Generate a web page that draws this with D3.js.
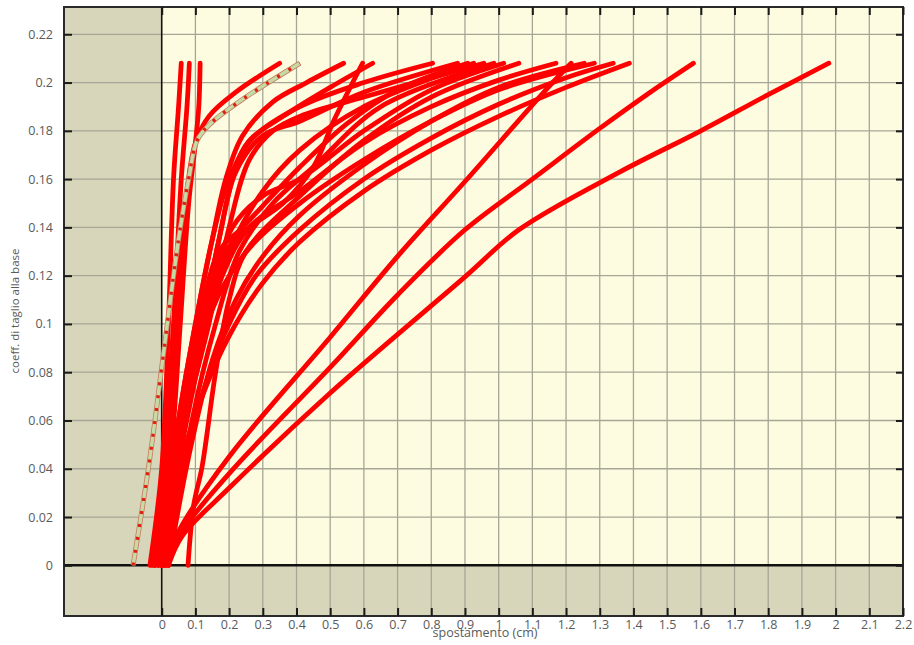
<html><head>
  <script src="https://d3js.org/d3.v7.min.js"></script>
  <style>
    body { margin: 0; background: #ffffff; }
    text { font-family: 'Open Sans', 'Noto Sans', sans-serif; }
    .axis text { fill: #5a5a5a; font-size: 12.5px; }
    .axis line { stroke: #1a1a1a; stroke-width: 2; }
    .axis path { display: none; }
  </style>
</head>
<body>
<script>
  // tick values
  const xTicks = [0, 0.1, 0.2, 0.3, 0.4, 0.5, 0.6, 0.7, 0.8, 0.9, 1, 1.1, 1.2, 1.3, 1.4, 1.5, 1.6, 1.7, 1.8, 1.9, 2, 2.1, 2.2]
  const yTicks = [0, 0.02, 0.04, 0.06, 0.08, 0.1, 0.12, 0.14, 0.16, 0.18, 0.2, 0.22]

  // pushover curves, [spostamento, coeff. taglio]
  const v1 = [[-0.035,0],[0,0.04],[0.02,0.1],[0.035,0.16],[0.05,0.19],[0.058,0.208]]
  const v2 = [[-0.025,0],[0.01,0.05],[0.035,0.1],[0.058,0.16],[0.075,0.19],[0.082,0.208]]
  const v3 = [[-0.01,0],[0.03,0.05],[0.055,0.1],[0.08,0.15],[0.1,0.175],[0.11,0.19],[0.114,0.208]]
  const c1 = [[-0.02,0],[0.02,0.05],[0.045,0.1],[0.075,0.155],[0.1,0.175],[0.14,0.186],[0.22,0.196],[0.35,0.208]]
  const e1 = [[0,0],[0.05,0.06],[0.1,0.1],[0.15,0.135],[0.19,0.16],[0.24,0.178],[0.33,0.192],[0.43,0.2],[0.54,0.208]]
  const e2 = [[0.005,0],[0.06,0.06],[0.12,0.1],[0.2,0.132],[0.26,0.14],[0.36,0.15],[0.45,0.165],[0.51,0.184],[0.596,0.208]]
  const e3 = [[-0.01,0],[0.06,0.06],[0.12,0.1],[0.17,0.135],[0.22,0.165],[0.26,0.176],[0.36,0.186],[0.5,0.198],[0.626,0.208]]
  const u1 = [[0,0],[0.05,0.06],[0.1,0.1],[0.15,0.135],[0.2,0.16],[0.27,0.177],[0.41,0.19],[0.6,0.2],[0.804,0.208]]
  const u2 = [[0,0],[0.06,0.06],[0.12,0.1],[0.17,0.135],[0.22,0.163],[0.3,0.178],[0.41,0.184],[0.6,0.196],[0.878,0.208]]
  const u3 = [[-0.02,0],[0.05,0.06],[0.11,0.1],[0.17,0.13],[0.24,0.14],[0.41,0.165],[0.55,0.183],[0.7,0.197],[0.908,0.208]]
  const u4 = [[0.01,0],[0.07,0.06],[0.13,0.1],[0.2,0.13],[0.3,0.155],[0.41,0.172],[0.6,0.19],[0.926,0.208]]
  const u5 = [[0,0],[0.07,0.06],[0.14,0.1],[0.2,0.14],[0.26,0.168],[0.33,0.18],[0.41,0.186],[0.6,0.194],[0.956,0.208]]
  const u6 = [[0.02,0],[0.09,0.06],[0.16,0.1],[0.23,0.13],[0.33,0.15],[0.45,0.165],[0.65,0.19],[0.986,0.208]]
  const b1 = [[-0.02,0],[0.05,0.04],[0.12,0.07],[0.2,0.095],[0.3,0.117],[0.41,0.134],[0.6,0.155],[0.8,0.172],[1,0.186],[1.2,0.198],[1.388,0.208]]
  const b2 = [[0,0],[0.06,0.04],[0.13,0.075],[0.2,0.1],[0.28,0.12],[0.41,0.139],[0.6,0.16],[0.8,0.177],[1,0.191],[1.2,0.202],[1.34,0.208]]
  const b3 = [[-0.03,0],[0.04,0.05],[0.11,0.09],[0.18,0.115],[0.27,0.133],[0.41,0.15],[0.6,0.168],[0.8,0.184],[1,0.197],[1.284,0.208]]
  const b4 = [[0.02,0],[0.08,0.045],[0.15,0.085],[0.22,0.11],[0.3,0.128],[0.41,0.145],[0.6,0.166],[0.8,0.184],[1,0.198],[1.254,0.208]]
  const b5 = [[-0.01,0],[0.06,0.05],[0.12,0.09],[0.18,0.12],[0.26,0.14],[0.41,0.155],[0.6,0.175],[0.8,0.19],[1,0.201],[1.17,0.208]]
  const b6 = [[0.078,0],[0.095,0.025],[0.12,0.041],[0.16,0.08],[0.2,0.11],[0.25,0.13],[0.41,0.153],[0.6,0.176],[0.8,0.194],[1.06,0.208]]
  const b7 = [[0.01,0],[0.07,0.06],[0.14,0.11],[0.21,0.14],[0.3,0.153],[0.41,0.16],[0.6,0.18],[0.8,0.197],[1.015,0.208]]
  const l1 = [[0.02,0],[0.06,0.012],[0.2,0.032],[0.5,0.0714],[0.9,0.1195],[1.06,0.139],[1.36,0.163],[1.6,0.18],[1.8,0.195],[1.98,0.208]]
  const l2 = [[0.015,0],[0.05,0.012],[0.2,0.038],[0.5,0.082],[0.7,0.112],[0.9,0.139],[1.1,0.16],[1.3,0.181],[1.45,0.196],[1.578,0.208]]
  const l3 = [[0.01,0],[0.05,0.014],[0.2,0.045],[0.5,0.0945],[0.7,0.128],[0.9,0.159],[1.147,0.198],[1.215,0.208]]
  const redCurves = [v1, v2, v3, c1, e1, e2, e3, u1, u2, u3, u4, u5, u6, b1, b2, b3, b4, b5, b6, b7, l1, l2, l3]

  // the dashed (mean) curve
  const dashedCurve = [[-0.085,0],[-0.045,0.035],[-0.02,0.06],[0,0.082],[0.05,0.135],[0.08,0.16],[0.105,0.176],[0.145,0.183],[0.25,0.194],[0.41,0.208]]

  const W = 914, H = 645
  const svg = d3.select("body").append("svg").attr("width", W).attr("height", H)

  const x = d3.scaleLinear().domain([-0.29, 2.2]).range([64, 903])
  const y = d3.scaleLinear().domain([-0.021, 0.2313]).range([616, 7])
  const fmt = d3.format("~g")

  // background: grey outside the positive quadrant, cream inside
  svg.append("rect").attr("x", x(-0.29)).attr("y", y(0.2313))
     .attr("width", x(2.2) - x(-0.29)).attr("height", y(-0.021) - y(0.2313))
     .attr("fill", "#d8d6ba")
  svg.append("rect").attr("x", x(0)).attr("y", y(0.2313))
     .attr("width", x(2.2) - x(0)).attr("height", y(0) - y(0.2313))
     .attr("fill", "#fefce0")

  // grid
  const grid = svg.append("g")
  grid.selectAll("line.gx").data(xTicks.slice(1, -1)).join("line").attr("class", "gx")
      .attr("x1", d => x(d)).attr("x2", d => x(d))
      .attr("y1", y(0.2313)).attr("y2", y(-0.021))
      .attr("stroke", "#a6a696").attr("stroke-width", 1.3)
  grid.selectAll("line.gy").data(yTicks.slice(1)).join("line").attr("class", "gy")
      .attr("x1", x(-0.29)).attr("x2", x(2.2))
      .attr("y1", d => y(d)).attr("y2", d => y(d))
      .attr("stroke", "#a6a696").attr("stroke-width", 1.3)

  // zero axes
  svg.append("line").attr("x1", x(0)).attr("x2", x(0)).attr("y1", y(0.2313)).attr("y2", y(-0.021))
     .attr("stroke", "#111").attr("stroke-width", 1.6)
  svg.append("line").attr("x1", x(-0.29)).attr("x2", x(2.2)).attr("y1", y(0)).attr("y2", y(0))
     .attr("stroke", "#111").attr("stroke-width", 2.5)

  // curves
  const line = d3.line().x(d => x(d[0])).y(d => y(d[1])).curve(d3.curveCatmullRom.alpha(0.5))
  svg.append("g").selectAll("path").data(redCurves).join("path")
     .attr("d", line).attr("fill", "none").attr("stroke", "#ff0000")
     .attr("stroke-width", 4.8).attr("stroke-linecap", "round").attr("stroke-linejoin", "round")

  const dash = svg.append("g")
  dash.append("path").datum(dashedCurve).attr("d", line).attr("fill", "none")
      .attr("stroke", "#c87a62").attr("stroke-width", 5)
  dash.append("path").datum(dashedCurve).attr("d", line).attr("fill", "none")
      .attr("stroke", "#c6daa4").attr("stroke-width", 3.4)
  dash.append("path").datum(dashedCurve).attr("d", line).attr("fill", "none")
      .attr("stroke", "#e02010").attr("stroke-width", 3.4).attr("stroke-dasharray", "3,10")

  // frame
  svg.append("rect").attr("x", x(-0.29)).attr("y", y(0.2313))
     .attr("width", x(2.2) - x(-0.29)).attr("height", y(-0.021) - y(0.2313))
     .attr("fill", "none").attr("stroke", "#2a2a2a").attr("stroke-width", 2)

  // axes with inward ticks
  svg.append("g").attr("class", "axis").attr("transform", `translate(${x(-0.29)},0)`)
     .call(d3.axisLeft(y).tickValues(yTicks).tickFormat(fmt).tickSize(-8).tickPadding(11))
  svg.append("g").attr("class", "axis").attr("transform", `translate(${x(2.2)},0)`)
     .call(d3.axisRight(y).tickValues(yTicks).tickFormat("").tickSize(-7))
  svg.append("g").attr("class", "axis").attr("transform", `translate(0,${y(-0.021)})`)
     .call(d3.axisBottom(x).tickValues(xTicks).tickFormat(fmt).tickSize(-8).tickPadding(4))
  svg.append("g").attr("class", "axis").attr("transform", `translate(0,${y(0.2313)})`)
     .call(d3.axisTop(x).tickValues(xTicks).tickFormat("").tickSize(-8))

  // axis titles (the x title sits over the tick labels, as in the original)
  svg.append("text").attr("x", 485).attr("y", 637).attr("text-anchor", "middle")
     .attr("fill", "#5a5a5a").style("font-size", "12.5px").text("spostamento (cm)")
  svg.append("text").attr("transform", "translate(19,311) rotate(-90)").attr("text-anchor", "middle")
     .attr("fill", "#5a5a5a").style("font-size", "11.5px").text("coeff. di taglio alla base")
</script>
</body>
</html>
